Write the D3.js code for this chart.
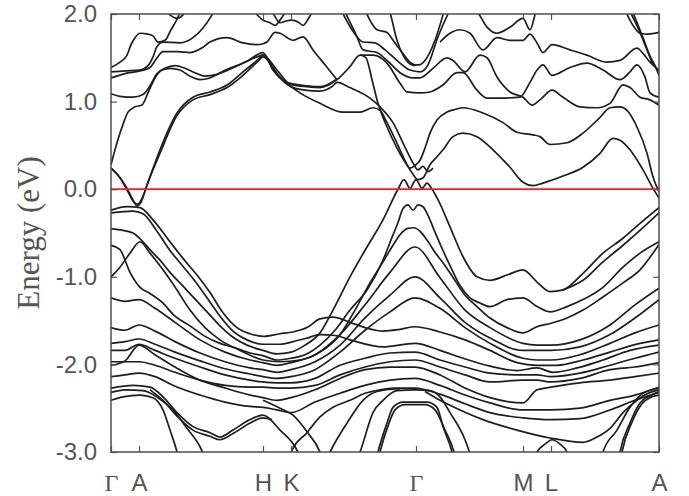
<!DOCTYPE html>
<html>
<head>
<meta charset="utf-8">
<script src="https://cdn.jsdelivr.net/npm/d3@7"></script>
<style>
  body { margin: 0; background: #fff; }
</style>
</head>
<body>
<div id="chart"></div>
<script>
// high-symmetry path
const kTicks = [0, 0.28, 1.52, 1.80, 3.05, 4.12, 4.40, 5.48];
const kLabels = ['Γ', 'A', 'H', 'K', 'Γ', 'M', 'L', 'A'];
const energyTicks = [-3, -2, -1, 0, 1, 2];
const fermiLevel = 0;

// shared k grid for the valence bundle
const kGrid = [0, 0.14, 0.28, 0.44, 0.64, 0.89, 1.14, 1.39, 1.52, 1.66, 1.80, 2.04, 2.29,
  2.54, 2.79, 3.04, 3.29, 3.54, 3.79, 4.12, 4.26, 4.40, 4.69, 4.99, 5.24, 5.48];

const vP247 = [-1.24, -1.28, -1.26, -1.36, -1.52, -1.72, -1.86, -1.95, -1.98, -2.01, -1.98, -1.89, -1.66,
  -1.32, -0.95, -0.66, -1.01, -1.38, -1.58, -1.76, -1.78, -1.78, -1.72, -1.55, -1.32, -1.13];
const vP277 = [-1.58, -1.61, -1.55, -1.62, -1.74, -1.87, -1.97, -2.04, -2.06, -2.09, -2.06, -1.97, -1.78,
  -1.47, -1.21, -1.00, -1.24, -1.52, -1.70, -1.84, -1.84, -1.84, -1.80, -1.66, -1.47, -1.26];
const vP298 = [-1.76, -1.74, -1.71, -1.77, -1.86, -1.96, -2.05, -2.11, -2.14, -2.16, -2.14, -2.06, -1.86,
  -1.61, -1.40, -1.24, -1.36, -1.58, -1.76, -1.93, -1.95, -1.95, -1.89, -1.76, -1.64, -1.55];
const vG352 = [-1.84, -1.84, -1.77, -1.84, -1.93, -2.03, -2.12, -2.18, -2.20, -2.21, -2.21, -2.16, -2.01,
  -1.93, -1.87, -1.86, -1.95, -2.03, -2.10, -2.12, -2.12, -2.14, -2.10, -2.01, -1.93, -1.86];
const vG360 = [-1.97, -1.97, -1.97, -2.01, -2.09, -2.18, -2.24, -2.26, -2.26, -2.27, -2.27, -2.24, -2.12,
  -2.03, -1.97, -1.95, -2.03, -2.12, -2.20, -2.18, -2.18, -2.20, -2.16, -2.06, -2.03, -1.98];
const vG365 = [-2.01, -1.96, -1.78, -1.89, -2.03, -2.18, -2.27, -2.35, -2.38, -2.41, -2.38, -2.29, -2.16,
  -2.06, -2.03, -2.03, -2.12, -2.27, -2.38, -2.44, -2.29, -2.26, -2.21, -2.18, -2.14, -2.10];
const vG377 = [-2.14, -2.12, -2.10, -2.14, -2.25, -2.35, -2.43, -2.48, -2.49, -2.52, -2.55, -2.43, -2.33,
  -2.24, -2.18, -2.16, -2.24, -2.35, -2.44, -2.52, -2.52, -2.52, -2.50, -2.41, -2.35, -2.26];

// bands traced as [k, E] pairs
const bandC1 = [[0, 0.24], [0.09, 0.13], [0.17, -0.03], [0.23, -0.15], [0.27, -0.17], [0.32, -0.08], [0.39, 0.14],
  [0.49, 0.45], [0.66, 0.87], [0.82, 1.05], [0.99, 1.11], [1.16, 1.19], [1.32, 1.34], [1.46, 1.47], [1.52, 1.53],
  [1.66, 1.36], [1.79, 1.20], [1.96, 1.17], [2.09, 1.16], [2.26, 1.25], [2.39, 1.40], [2.49, 1.53], [2.55, 1.50],
  [2.61, 1.25], [2.67, 0.98], [2.76, 0.71], [2.86, 0.47], [2.94, 0.31], [2.99, 0.24], [3.04, 0.27], [3.09, 0.33],
  [3.14, 0.47], [3.19, 0.64], [3.26, 0.79], [3.36, 0.88], [3.44, 0.91], [3.52, 0.93], [3.72, 0.87], [3.92, 0.76],
  [4.06, 0.65], [4.22, 0.62], [4.29, 0.60], [4.39, 0.51], [4.56, 0.53], [4.72, 0.64], [4.89, 0.82], [4.99, 0.93],
  [5.09, 0.94], [5.16, 0.90], [5.26, 0.71], [5.36, 0.41], [5.42, 0.14], [5.48, -0.03]];
const bandC1b = [[0, 0.24], [0.07, 0.16], [0.15, 0.03], [0.21, -0.10], [0.26, -0.19], [0.30, -0.15], [0.36, 0.05],
  [0.49, 0.41], [0.66, 0.84], [0.82, 1.02], [0.99, 1.08], [1.16, 1.16], [1.32, 1.30], [1.46, 1.45], [1.52, 1.51],
  [1.69, 1.28], [1.89, 1.10], [2.09, 0.98], [2.32, 0.88], [2.49, 0.88], [2.62, 0.93], [2.69, 0.90], [2.76, 0.76],
  [2.89, 0.45], [2.96, 0.28], [3.02, 0.17], [3.07, 0.11], [3.12, 0.13], [3.19, 0.28], [3.26, 0.37], [3.32, 0.45],
  [3.42, 0.60], [3.52, 0.64], [3.66, 0.60], [3.82, 0.45], [3.99, 0.25], [4.12, 0.08], [4.22, 0.04], [4.32, 0.07],
  [4.52, 0.15], [4.72, 0.25], [4.89, 0.41], [5.02, 0.58], [5.09, 0.56], [5.19, 0.45], [5.32, 0.22], [5.42, 0.01],
  [5.48, -0.10]];
const bandC2 = [[0, 0.28], [0.06, 0.53], [0.12, 0.74], [0.17, 0.88], [0.24, 0.94], [0.31, 0.96], [0.37, 1.10],
  [0.44, 1.27], [0.51, 1.36], [0.59, 1.38], [0.69, 1.36], [0.79, 1.29], [0.89, 1.25], [0.99, 1.27], [1.11, 1.34],
  [1.32, 1.44], [1.46, 1.51], [1.52, 1.53], [1.64, 1.34], [1.77, 1.19], [1.94, 1.13], [2.09, 1.12], [2.22, 1.18],
  [2.26, 1.22], [2.39, 1.16], [2.59, 1.04], [2.69, 0.94], [2.82, 0.76], [2.94, 0.48], [3.02, 0.30], [3.07, 0.22],
  [3.12, 0.26], [3.17, 0.20], [3.22, 0.24]];
const bandC3 = [[0, 1.09], [0.09, 1.06], [0.22, 1.05], [0.32, 1.08], [0.39, 1.18], [0.46, 1.32], [0.54, 1.38],
  [0.64, 1.41], [0.74, 1.38], [0.84, 1.33], [0.94, 1.29], [1.06, 1.31], [1.21, 1.38], [1.36, 1.46], [1.52, 1.56],
  [1.62, 1.36], [1.76, 1.22], [1.96, 1.18], [2.09, 1.17], [2.26, 1.26]];
const bandU1 = [[0, 1.39], [0.09, 1.45], [0.16, 1.53], [0.20, 1.65], [0.24, 1.73], [0.29, 1.78], [0.37, 1.77],
  [0.42, 1.75], [0.47, 1.68], [0.54, 1.70], [0.60, 1.82], [0.66, 1.94], [0.70, 2.05]];
const bandU2 = [[0, 1.34], [0.14, 1.35], [0.29, 1.36], [0.37, 1.41], [0.42, 1.51], [0.46, 1.63], [0.52, 1.68],
  [0.69, 1.67], [0.82, 1.73], [0.92, 1.84], [1.01, 1.99], [1.05, 2.07]];
const bandU3 = [[0, 1.27], [0.14, 1.32], [0.29, 1.35], [0.39, 1.39], [0.46, 1.50], [0.52, 1.57], [0.66, 1.57],
  [0.79, 1.56], [0.92, 1.62], [0.99, 1.68], [1.16, 1.73], [1.32, 1.67], [1.46, 1.65], [1.52, 1.66], [1.56, 1.68],
  [1.64, 1.79], [1.69, 1.78], [1.82, 1.70], [1.92, 1.74], [2.02, 1.59], [2.14, 1.42], [2.26, 1.25]];
const bandT0 = [[0.54, 2.05], [0.59, 1.99], [0.66, 1.95], [0.72, 1.99], [0.76, 2.05]];
const bandTH1 = [[1.41, 2.07], [1.47, 1.98], [1.52, 1.93], [1.59, 1.90], [1.64, 1.87], [1.69, 1.93], [1.74, 2.02],
  [1.76, 2.07]];
const bandTH2 = [[1.59, 2.07], [1.64, 1.97], [1.69, 1.90], [1.75, 1.92], [1.81, 1.93], [1.87, 1.91], [1.92, 1.87],
  [1.97, 1.94], [2.01, 2.02], [2.03, 2.07]];
const bandT1 = [[2.29, 2.07], [2.41, 1.82], [2.52, 1.68], [2.64, 1.67], [2.74, 1.59], [2.89, 1.44], [2.99, 1.36],
  [3.09, 1.34], [3.17, 1.42], [3.27, 1.74], [3.37, 2.00], [3.40, 2.07]];
const bandT2 = [[2.32, 2.07], [2.46, 1.74], [2.52, 1.59], [2.66, 1.56], [2.76, 1.47], [2.89, 1.33], [3.02, 1.27],
  [3.09, 1.27], [3.22, 1.38], [3.36, 1.50], [3.42, 1.47], [3.54, 1.34], [3.69, 1.53], [3.76, 1.50], [3.86, 1.28],
  [3.99, 1.11], [4.12, 1.05], [4.21, 0.96], [4.29, 1.02], [4.41, 1.13], [4.52, 1.05], [4.69, 0.94], [4.86, 0.93],
  [4.99, 0.98], [5.12, 1.19], [5.19, 1.16], [5.29, 1.05], [5.39, 1.02], [5.48, 0.96]];
const bandT3 = [[2.53, 2.07], [2.66, 1.82], [2.76, 1.79], [2.82, 1.70], [2.92, 1.55], [2.99, 1.45], [3.04, 1.42],
  [3.08, 1.42], [3.14, 1.47], [3.24, 1.70], [3.32, 1.99], [3.34, 2.07]];
const bandT4 = [[2.78, 2.07], [2.81, 1.93], [2.86, 1.70], [2.92, 1.53], [2.99, 1.43], [3.04, 1.41]];
const bandT5 = [[2.49, 1.53], [2.62, 1.53], [2.76, 1.44], [2.89, 1.21], [2.96, 1.11], [3.09, 1.10], [3.19, 1.11],
  [3.32, 1.19], [3.46, 1.33], [3.52, 1.33], [3.66, 1.13], [3.76, 1.04], [3.92, 1.04], [4.09, 1.05], [4.19, 1.22],
  [4.26, 1.36], [4.32, 1.42], [4.41, 1.30], [4.59, 1.39], [4.76, 1.44], [4.92, 1.36], [5.09, 1.25], [5.19, 1.34],
  [5.26, 1.42], [5.34, 1.28], [5.39, 1.10], [5.48, 1.05]];
const bandR1 = [[3.59, 2.07], [3.67, 2.01], [3.76, 1.85], [3.86, 1.78], [3.99, 1.85], [4.12, 1.95], [4.19, 1.82],
  [4.24, 1.99], [4.26, 2.07]];
const bandR2 = [[3.29, 1.68], [3.39, 1.78], [3.49, 1.82], [3.59, 1.78], [3.72, 1.59], [3.86, 1.73], [3.99, 1.70],
  [4.12, 1.70], [4.19, 1.77], [4.26, 1.67], [4.32, 1.56], [4.41, 1.65], [4.59, 1.59], [4.76, 1.53], [4.96, 1.45],
  [5.09, 1.47], [5.26, 1.61], [5.32, 1.55], [5.39, 1.45], [5.48, 1.36]];
const bandA1 = [[5.13, 2.07], [5.22, 1.87], [5.29, 1.78], [5.37, 1.77], [5.48, 1.79]];
const bandA2 = [[5.17, 2.07], [5.29, 1.79], [5.36, 1.59], [5.41, 1.45], [5.48, 1.35]];
const bandA3 = [[5.20, 2.07], [5.32, 1.73], [5.39, 1.52], [5.44, 1.41], [5.48, 1.30]];

const bandV1 = [[0, -0.24], [0.16, -0.20], [0.29, -0.21], [0.42, -0.35], [0.59, -0.60], [0.72, -0.79], [0.86, -0.98],
  [0.99, -1.18], [1.12, -1.41], [1.26, -1.58], [1.39, -1.65], [1.52, -1.68], [1.69, -1.65], [1.82, -1.63],
  [1.96, -1.58], [2.09, -1.48], [2.22, -1.46], [2.39, -1.52], [2.54, -1.58], [2.72, -1.62], [2.89, -1.60],
  [3.04, -1.57], [3.29, -1.63], [3.54, -1.72], [3.79, -1.84], [4.06, -1.98], [4.26, -2.01], [4.46, -2.01],
  [4.72, -1.95], [4.99, -1.86], [5.22, -1.78], [5.48, -1.72]];
const bandV2 = [[0, -0.27], [0.22, -0.25], [0.32, -0.28], [0.46, -0.48], [0.59, -0.70], [0.69, -0.84], [0.82, -1.02],
  [0.96, -1.24], [1.09, -1.45], [1.22, -1.62], [1.36, -1.72], [1.52, -1.77], [1.69, -1.77], [1.82, -1.74],
  [1.96, -1.70], [2.09, -1.66], [2.24, -1.67], [2.39, -1.72], [2.72, -1.80], [3.04, -1.76], [3.29, -1.84],
  [3.52, -1.93], [3.79, -2.02], [4.06, -2.07], [4.26, -2.04], [4.42, -2.09], [4.66, -2.04], [4.92, -1.95],
  [5.19, -1.84], [5.48, -1.78]];
const bandL1 = [[0, -0.45], [0.12, -0.47], [0.22, -0.50], [0.32, -0.60], [0.39, -0.69], [0.49, -0.81], [0.59, -0.95],
  [0.69, -1.07], [0.82, -1.23], [0.96, -1.40], [1.09, -1.56], [1.22, -1.69], [1.36, -1.78], [1.52, -1.84],
  [1.66, -1.88], [1.80, -1.86], [1.94, -1.78], [2.09, -1.64], [2.22, -1.38], [2.39, -1.00], [2.56, -0.66],
  [2.72, -0.35], [2.87, 0.00], [2.93, 0.11], [2.99, 0.01], [3.05, 0.11], [3.11, 0.01], [3.16, 0.07], [3.21, 0.00],
  [3.27, -0.12], [3.39, -0.43], [3.52, -0.77], [3.66, -1.00], [3.79, -1.04], [3.96, -0.98], [4.12, -0.92],
  [4.26, -1.06], [4.39, -1.17], [4.52, -1.15], [4.72, -0.96], [4.92, -0.73], [5.12, -0.56], [5.29, -0.39],
  [5.48, -0.21]];
const bandL1b = [[4.52, -1.15], [4.72, -1.04], [4.92, -0.83], [5.12, -0.64], [5.29, -0.47], [5.48, -0.27]];
const bandL2 = [[0, -0.64], [0.09, -0.69], [0.19, -0.95], [0.29, -1.12], [0.39, -1.19], [0.51, -1.29], [0.64, -1.45],
  [0.79, -1.56], [0.94, -1.68], [1.09, -1.76], [1.24, -1.81], [1.39, -1.87], [1.52, -1.90], [1.66, -1.95],
  [1.80, -1.93], [1.94, -1.89], [2.09, -1.78], [2.24, -1.61], [2.39, -1.38], [2.56, -1.15], [2.72, -0.81],
  [2.81, -0.55], [2.87, -0.38], [2.92, -0.22], [2.97, -0.18], [3.02, -0.24], [3.07, -0.18], [3.12, -0.20],
  [3.17, -0.30], [3.24, -0.49], [3.32, -0.70], [3.41, -0.92], [3.49, -1.10], [3.59, -1.24], [3.69, -1.30],
  [3.79, -1.34], [3.96, -1.26], [4.12, -1.24], [4.26, -1.34], [4.39, -1.40], [4.56, -1.34], [4.72, -1.26],
  [4.92, -1.12], [5.12, -0.89], [5.29, -0.73], [5.48, -0.60]];
const bandP228 = [[0, -1.00], [0.09, -0.89], [0.19, -0.73], [0.29, -0.60], [0.39, -0.73], [0.52, -0.92], [0.66, -1.15],
  [0.79, -1.38], [0.94, -1.58], [1.09, -1.72], [1.29, -1.84], [1.52, -1.95], [1.69, -1.97], [1.89, -1.95],
  [2.09, -1.86], [2.29, -1.66], [2.44, -1.38], [2.59, -1.07], [2.72, -0.83], [2.82, -0.64], [2.89, -0.52],
  [2.96, -0.45], [3.03, -0.44], [3.09, -0.48], [3.16, -0.58], [3.24, -0.72], [3.32, -0.84], [3.41, -0.99],
  [3.54, -1.21], [3.66, -1.34], [3.79, -1.47], [3.96, -1.58], [4.12, -1.64], [4.26, -1.57], [4.40, -1.53],
  [4.56, -1.47], [4.72, -1.38], [4.92, -1.23], [5.12, -1.07], [5.29, -0.92], [5.48, -0.63]];
const bandDip = [[0, -2.27], [0.22, -2.24], [0.39, -2.26], [0.52, -2.37], [0.66, -2.55], [0.82, -2.71], [0.99, -2.78],
  [1.09, -2.83], [1.22, -2.75], [1.39, -2.63], [1.52, -2.58], [1.69, -2.75], [1.86, -2.98], [1.94, -3.20]];
const bandDipB = [[0.39, -2.29], [0.52, -2.41], [0.66, -2.59], [0.82, -2.75], [0.99, -2.82], [1.09, -2.86],
  [1.22, -2.79], [1.39, -2.67], [1.52, -2.61], [1.61, -2.63]];
const bandG392 = [[0, -2.32], [0.14, -2.29], [0.32, -2.30], [0.47, -2.38], [0.62, -2.52], [0.76, -2.73], [0.89, -2.94],
  [0.99, -3.20]];
const bandG400 = [[0, -2.41], [0.12, -2.37], [0.29, -2.35], [0.42, -2.38], [0.52, -2.52], [0.59, -2.75], [0.66, -3.00],
  [0.70, -3.20]];
const bandXA = [[1.52, -2.41], [1.69, -2.50], [1.82, -2.58], [1.96, -2.77], [2.09, -3.00], [2.15, -3.20]];
const bandXB = [[1.74, -3.20], [1.81, -2.98], [1.96, -2.78], [2.09, -2.60], [2.22, -2.49], [2.39, -2.41], [2.54, -2.33],
  [2.69, -2.29], [2.84, -2.27], [3.04, -2.27], [3.29, -2.34], [3.54, -2.45], [3.79, -2.55], [4.12, -2.61],
  [4.40, -2.63], [4.69, -2.62], [4.99, -2.52], [5.24, -2.41], [5.48, -2.32]];
const bandRiseK = [[2.11, -3.20], [2.19, -3.00], [2.36, -2.67], [2.52, -2.41], [2.66, -2.31], [2.84, -2.28],
  [2.89, -2.28]];
const bandDomeOuter = [[2.41, -3.20], [2.49, -3.00], [2.62, -2.55], [2.72, -2.41], [2.86, -2.30], [3.04, -2.29],
  [3.19, -2.30], [3.29, -2.37], [3.39, -2.55], [3.54, -2.86], [3.64, -3.20]];
const bandDomeInner = [[2.63, -3.20], [2.67, -3.00], [2.76, -2.67], [2.82, -2.49], [2.92, -2.43], [3.16, -2.43],
  [3.26, -2.49], [3.32, -2.71], [3.41, -3.00], [3.45, -3.20]];
const bandDomeInnerB = [[2.65, -3.20], [2.69, -3.00], [2.78, -2.67], [2.84, -2.52], [2.94, -2.46], [3.14, -2.46],
  [3.24, -2.52], [3.34, -2.75], [3.43, -3.00], [3.47, -3.20]];
const bandDeep = [[3.14, -2.31], [3.29, -2.41], [3.49, -2.52], [3.72, -2.63], [4.06, -2.75], [4.39, -2.84],
  [4.72, -2.89], [4.86, -2.83], [4.99, -2.73], [5.12, -2.55], [5.26, -2.41], [5.37, -2.33], [5.48, -2.29]];
const bandCapL = [[4.19, -3.20], [4.26, -3.00], [4.34, -2.91], [4.41, -2.86], [4.49, -2.91], [4.56, -3.00],
  [4.61, -3.20]];
const bandRiseA1 = [[4.89, -3.20], [4.92, -3.00], [5.06, -2.75], [5.19, -2.49], [5.32, -2.33], [5.48, -2.27]];
const bandRiseA2 = [[5.06, -3.20], [5.09, -3.00], [5.19, -2.67], [5.29, -2.44], [5.39, -2.36], [5.48, -2.31]];
const bandRiseA3 = [[5.08, -3.20], [5.11, -3.00], [5.21, -2.66], [5.31, -2.45], [5.41, -2.37], [5.48, -2.35]];

const gridBands = [vP247, vP277, vP298, vG352, vG360, vG365, vG377];
const pathBands = [bandC1, bandC1b, bandC2, bandC3, bandU1, bandU2, bandU3, bandT0, bandTH1, bandTH2,
  bandT1, bandT2, bandT3, bandT4, bandT5, bandR1, bandR2, bandA1, bandA2, bandA3,
  bandV1, bandV2, bandL1, bandL1b, bandL2, bandP228, bandDip, bandDipB, bandG392, bandG400,
  bandXA, bandXB, bandRiseK, bandDomeOuter, bandDomeInner, bandDomeInnerB, bandDeep, bandCapL,
  bandRiseA1, bandRiseA2, bandRiseA3];

// painter
const BandPainter = {};

BandPainter.defaultOption = () => {
  const width = 689;
  const height = 496;
  const margin = {top: 14, right: 30, bottom: 44, left: 111};
  return {width, height, margin};
};

BandPainter.paint = (container, option = BandPainter.defaultOption()) => {
  const {width, height, margin} = option;
  const x = d3.scaleLinear()
      .domain([kTicks[0], kTicks[kTicks.length - 1]])
      .range([margin.left, width - margin.right]);
  const y = d3.scaleLinear()
      .domain([-3, 2])
      .range([height - margin.bottom, margin.top]);

  const svg = d3.select(container).append('svg')
      .attr('width', width)
      .attr('height', height)
      .attr('viewBox', [0, 0, width, height]);

  svg.append('defs').append('clipPath')
      .attr('id', 'plot-clip')
      .append('rect')
      .attr('x', x.range()[0])
      .attr('y', y.range()[1])
      .attr('width', x.range()[1] - x.range()[0])
      .attr('height', y.range()[0] - y.range()[1]);

  const line = d3.line()
      .x((d) => x(d[0]))
      .y((d) => y(d[1]))
      .curve(d3.curveMonotoneX);

  const bands = pathBands.concat(gridBands.map((b) => kGrid.map((k, i) => [k, b[i]])));

  svg.append('g')
      .attr('clip-path', 'url(#plot-clip)')
      .attr('fill', 'none')
      .attr('stroke', '#1e1e1e')
      .attr('stroke-width', 1.7)
      .attr('stroke-linejoin', 'round')
      .selectAll('path')
      .data(bands)
      .join('path')
      .attr('d', line);

  // Fermi level
  svg.append('line')
      .attr('x1', x.range()[0])
      .attr('x2', x.range()[1])
      .attr('y1', y(fermiLevel))
      .attr('y2', y(fermiLevel))
      .attr('stroke', '#ff1a1a')
      .attr('stroke-width', 1.7);

  const styleAxis = (g) => {
    g.select('.domain').remove();
    g.selectAll('.tick line').attr('stroke', '#555').attr('stroke-width', 1.2);
    g.selectAll('.tick text')
        .attr('fill', '#555')
        .attr('font-size', 24)
        .attr('font-family', 'Liberation Sans, Arial, sans-serif');
  };

  svg.append('g')
      .attr('transform', `translate(0,${y.range()[0]})`)
      .call(d3.axisBottom(x).tickValues(kTicks).tickSizeInner(-6).tickSizeOuter(0)
          .tickPadding(22).tickFormat((d, i) => kLabels[i]))
      .call(styleAxis)
      .selectAll('.tick text')
      .attr('font-family', (d, i) => kLabels[i] === 'Γ' ?
        'Liberation Serif, Times New Roman, serif' : 'Liberation Sans, Arial, sans-serif');

  svg.append('g')
      .attr('transform', `translate(0,${y.range()[1]})`)
      .call(d3.axisTop(x).tickValues(kTicks).tickSizeInner(-6).tickSizeOuter(0).tickFormat(''))
      .call(styleAxis);

  svg.append('g')
      .attr('transform', `translate(${x.range()[0]},0)`)
      .call(d3.axisLeft(y).tickValues(energyTicks).tickSizeInner(-6).tickSizeOuter(0)
          .tickPadding(14).tickFormat((d) => d.toFixed(1)))
      .call(styleAxis);

  svg.append('g')
      .attr('transform', `translate(${x.range()[1]},0)`)
      .call(d3.axisRight(y).tickValues(energyTicks).tickSizeInner(-6).tickSizeOuter(0).tickFormat(''))
      .call(styleAxis);

  // frame
  svg.append('rect')
      .attr('x', x.range()[0])
      .attr('y', y.range()[1])
      .attr('width', x.range()[1] - x.range()[0])
      .attr('height', y.range()[0] - y.range()[1])
      .attr('fill', 'none')
      .attr('stroke', '#4d4d4d')
      .attr('stroke-width', 1.5);

  svg.append('text')
      .attr('transform', `translate(32,${(y.range()[0] + y.range()[1]) / 2}) rotate(-90)`)
      .attr('text-anchor', 'middle')
      .attr('dominant-baseline', 'middle')
      .attr('fill', '#555')
      .attr('font-size', 31)
      .attr('font-family', 'Liberation Serif, Times New Roman, serif')
      .text('Energy (eV)');
};

BandPainter.paint(document.getElementById('chart'));
</script>
</body>
</html>
